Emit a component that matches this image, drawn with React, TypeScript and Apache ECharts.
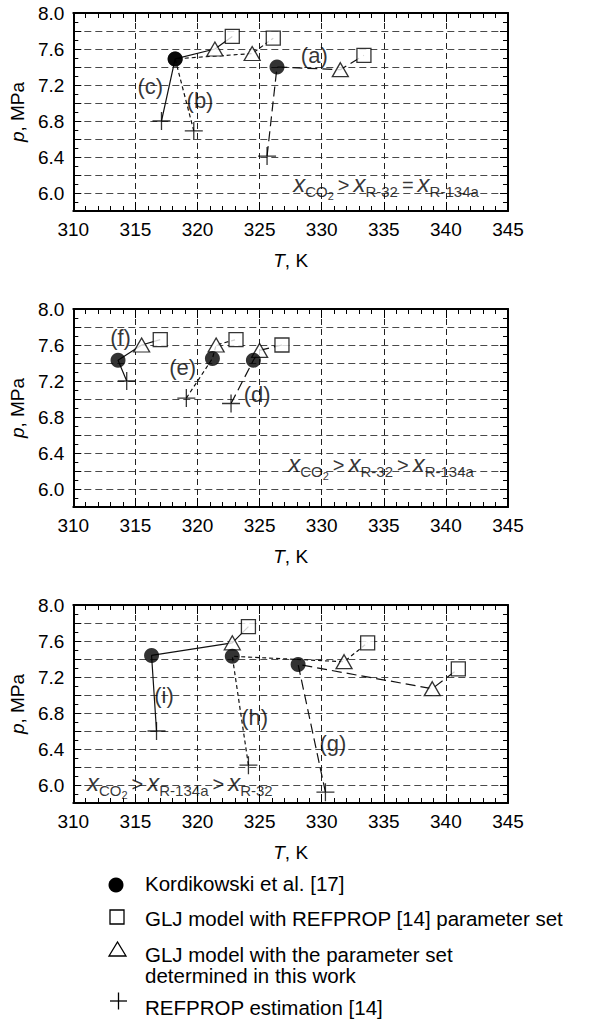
import React, { useEffect, useRef } from "react";
import * as echarts from "echarts";

const FONT = '"Liberation Sans", Arial, Helvetica, sans-serif';

// ---------- data (T in K, p in MPa); order of groups in each panel: long-dash, dashed, solid
// Panel 1: (a), (b), (c)
const p1Exp = [[326.4, 7.4], [318.2, 7.49], [318.2, 7.49]];
const p1Ref = [[333.4, 7.53], [326.1, 7.72], [322.8, 7.74]];
const p1Glj = [[331.5, 7.37], [324.4, 7.55], [321.4, 7.6]];
const p1Est = [[325.6, 6.41], [319.7, 6.69], [317.1, 6.8]];
const p1Tags = ["(a)", "(b)", "(c)"];
const p1TagPos = [[329.4, 7.53], [320.2, 7.03], [316.2, 7.18]];

// Panel 2: (d), (e), (f)
const p2Exp = [[324.5, 7.43], [321.2, 7.45], [313.6, 7.43]];
const p2Ref = [[326.8, 7.6], [323.1, 7.66], [317.0, 7.66]];
const p2Glj = [[325.0, 7.54], [321.5, 7.6], [315.5, 7.6]];
const p2Est = [[322.7, 6.95], [319.1, 7.01], [314.3, 7.2]];
const p2Tags = ["(d)", "(e)", "(f)"];
const p2TagPos = [[324.8, 7.05], [318.8, 7.35], [313.8, 7.68]];

// Panel 3: (g), (h), (i)
const p3Exp = [[328.1, 7.34], [322.8, 7.43], [316.3, 7.44]];
const p3Ref = [[341.0, 7.29], [333.7, 7.58], [324.1, 7.76]];
const p3Glj = [[338.9, 7.07], [331.8, 7.37], [322.8, 7.58]];
const p3Est = [[330.3, 5.92], [324.1, 6.22], [316.7, 6.6]];
const p3Tags = ["(g)", "(h)", "(i)"];
const p3TagPos = [[330.9, 6.46], [324.6, 6.75], [317.3, 7.0]];

// composition annotations
const p1Note = "{x|x}{s|CO}{t|2}{g|>}{x|x}{s|R-32}{g|=}{x|x}{s|R-134a}";
const p2Note = "{x|x}{s|CO}{t|2}{g|>}{x|x}{s|R-32}{g|>}{x|x}{s|R-134a}";
const p3Note = "{x|x}{s|CO}{t|2}{g|>}{x|x}{s|R-134a}{g|>}{x|x}{s|R-32}";
const p1NotePos = [327.7, 6.07];
const p2NotePos = [327.3, 6.25];
const p3NotePos = [311.1, 5.99];

// axes
const tMin = 310;
const tMax = 345;
const tStep = 5;
const pMin = 5.8;
const pMax = 8.0;
const pStep = 0.2;

const legendLabels = [
  "Kordikowski et al. [17]",
  "GLJ model with REFPROP [14] parameter set",
  "GLJ model with the parameter set\ndetermined in this work",
  "REFPROP estimation [14]",
];

const panels = [
  { exp: p1Exp, ref: p1Ref, glj: p1Glj, est: p1Est, tags: p1Tags, tagPos: p1TagPos, note: p1Note, notePos: p1NotePos },
  { exp: p2Exp, ref: p2Ref, glj: p2Glj, est: p2Est, tags: p2Tags, tagPos: p2TagPos, note: p2Note, notePos: p2NotePos },
  { exp: p3Exp, ref: p3Ref, glj: p3Glj, est: p3Est, tags: p3Tags, tagPos: p3TagPos, note: p3Note, notePos: p3NotePos },
];

const PLUS = "path://M10,0 L10,20 M0,10 L20,10";
const lineTypes: any[] = [[10, 5], [4, 3], "solid"];

function buildOption() {
  const tops = [13, 309, 605];
  const grids = tops.map((t) => ({ left: 70, width: 438, top: t, height: 198, show: false }));
  const xAxes: any[] = [];
  const yAxes: any[] = [];
  const black = "#000";
  const noBorder = { textBorderWidth: 0, textBorderColor: "transparent", textShadowBlur: 0 };
  tops.forEach((_, gi) => {
    const common = {
      type: "value",
      gridIndex: gi,
      min: tMin,
      max: tMax,
      interval: tStep,
      axisLine: { show: true, onZero: false, lineStyle: { color: "#000", width: 2 } },
      axisTick: { show: true, inside: true, length: 9, lineStyle: { color: "#000", width: 1 } },
      minorTick: { show: true, splitNumber: 5, length: 5, lineStyle: { color: "#000", width: 1 } },
    };
    xAxes.push({
      ...common,
      position: "bottom",
      axisLabel: { show: true, fontSize: 19, color: black, fontFamily: FONT, margin: 9 },
      splitLine: { show: true, lineStyle: { color: "#222", width: 1, type: [6, 4] } },
      name: "{i|T}, K",
      nameLocation: "middle",
      nameGap: 40,
      nameTextStyle: {
        fontSize: 19,
        color: black,
        fontFamily: FONT,
        rich: { i: { fontSize: 19, fontStyle: "italic", color: black, fontFamily: FONT } },
      },
    });
    xAxes.push({
      ...common,
      position: "top",
      axisLabel: { show: false },
      splitLine: { show: false },
    });
    const ycommon = {
      type: "value",
      gridIndex: gi,
      min: pMin,
      max: pMax,
      interval: pStep,
      axisLine: { show: true, onZero: false, lineStyle: { color: "#000", width: 2 } },
      axisTick: { show: true, inside: true, length: 8, lineStyle: { color: "#000", width: 1 } },
      minorTick: { show: true, splitNumber: 2, length: 5, lineStyle: { color: "#000", width: 1 } },
    };
    yAxes.push({
      ...ycommon,
      position: "left",
      axisLabel: {
        show: true,
        fontSize: 19,
        color: black,
        fontFamily: FONT,
        margin: 9,
        formatter: (v: number) => (Math.round(v * 10) % 4 === 0 ? v.toFixed(1) : ""),
      },
      splitLine: { show: true, lineStyle: { color: "#4a4a4a", width: 1, type: [7, 4] } },
      name: "{i|p}, MPa",
      nameLocation: "middle",
      nameGap: 42,
      nameTextStyle: {
        fontSize: 19,
        color: black,
        fontFamily: FONT,
        rich: { i: { fontSize: 19, fontStyle: "italic", color: black, fontFamily: FONT } },
      },
    });
    yAxes.push({
      ...ycommon,
      position: "right",
      axisLabel: { show: false },
      splitLine: { show: false },
    });
  });

  const series: any[] = [];
  panels.forEach((pn, pi) => {
    const xi = pi * 2;
    const yi = pi * 2;
    for (let g = 0; g < 3; g++) {
      series.push({
        type: "line",
        xAxisIndex: xi,
        yAxisIndex: yi,
        data: [pn.est[g], pn.exp[g], pn.glj[g], pn.ref[g]],
        symbol: "none",
        silent: true,
        z: 3,
        lineStyle: { color: "#111", width: 1.2, type: lineTypes[g] },
      });
    }
    const sc = (data: any, extra: any) => ({
      type: "scatter",
      xAxisIndex: xi,
      yAxisIndex: yi,
      data,
      silent: true,
      ...extra,
    });
    series.push(sc(pn.ref, { symbol: "rect", symbolSize: 14, z: 5, itemStyle: { color: "#fff", borderColor: "#000", borderWidth: 1.3 } }));
    series.push(sc(pn.glj, { symbol: "triangle", symbolSize: [16, 14], z: 5, itemStyle: { color: "#fff", borderColor: "#000", borderWidth: 1.3 } }));
    series.push(sc(pn.est, { symbol: PLUS, symbolSize: 18, z: 5, itemStyle: { color: "none", borderColor: "#000", borderWidth: 1.3 } }));
    series.push(sc(pn.exp, { symbol: "circle", symbolSize: 15, z: 6, itemStyle: { color: "#000" } }));
    series.push(
      sc(
        pn.tagPos.map((v, k) => ({ value: v, name: pn.tags[k] })),
        {
          symbolSize: 0,
          z: 7,
          itemStyle: { color: "#000" },
          label: { show: true, position: "inside", formatter: "{b}", fontSize: 22, color: "#000", fontFamily: FONT, ...noBorder },
        }
      )
    );
    const sub = { fontFamily: FONT, color: "#000", verticalAlign: "bottom", ...noBorder };
    series.push(
      sc([{ value: pn.notePos, name: "note" }], {
        symbolSize: 0,
        z: 7,
        itemStyle: { color: "#000" },
        label: {
          show: true,
          position: "inside",
          align: "left",
          verticalAlign: "middle",
          color: "#000",
          ...noBorder,
          formatter: pn.note,
          rich: {
            x: { ...sub, fontSize: 24, fontStyle: "italic", padding: [0, 0, 6, 0] },
            s: { ...sub, fontSize: 15, padding: [0, 0, 3, 0] },
            t: { ...sub, fontSize: 11, padding: [0, 0, 0, 0] },
            g: { ...sub, fontSize: 20, padding: [0, 4, 7, 4] },
          },
        },
      })
    );
  });

  const tx = 145;
  const legendY = [885, 919, 964, 1008];
  const txtStyle = (text: string, y: number) => ({
    type: "text",
    left: tx,
    top: y,
    silent: true,
    style: { text, fontSize: 20.5, fontFamily: FONT, fill: "#000", lineHeight: 21, textVerticalAlign: "top" },
  });
  const graphic: any[] = [
    { type: "circle", shape: { cx: 116, cy: legendY[0], r: 7.5 }, style: { fill: "#000" }, silent: true },
    { type: "rect", shape: { x: 110, y: 910, width: 14, height: 14 }, style: { fill: "#fff", stroke: "#000", lineWidth: 1.3 }, silent: true },
    { type: "polygon", shape: { points: [[109, 956], [126, 956], [117.5, 942]] }, style: { fill: "#fff", stroke: "#000", lineWidth: 1.3 }, silent: true },
    { type: "line", shape: { x1: 110, y1: 1001, x2: 127, y2: 1001 }, style: { stroke: "#000", lineWidth: 1.3 }, silent: true },
    { type: "line", shape: { x1: 118.5, y1: 992.5, x2: 118.5, y2: 1009.5 }, style: { stroke: "#000", lineWidth: 1.3 }, silent: true },
    txtStyle(legendLabels[0], legendY[0] - 12),
    txtStyle(legendLabels[1], legendY[1] - 11),
    txtStyle(legendLabels[2], 944),
    txtStyle(legendLabels[3], legendY[3] - 11),
  ];

  return {
    animation: false,
    backgroundColor: "#fff",
    textStyle: { fontFamily: FONT },
    grid: grids,
    xAxis: xAxes,
    yAxis: yAxes,
    series,
    graphic,
  };
}

export default function App() {
  const ref = useRef<HTMLDivElement>(null);
  useEffect(() => {
    document.body.style.margin = "0";
    if (!ref.current) return;
    const chart = echarts.init(ref.current, undefined, { renderer: "svg" });
    chart.setOption(buildOption() as any);
    return () => chart.dispose();
  }, []);
  return <div ref={ref} style={{ width: 609, height: 1023 }} />;
}
